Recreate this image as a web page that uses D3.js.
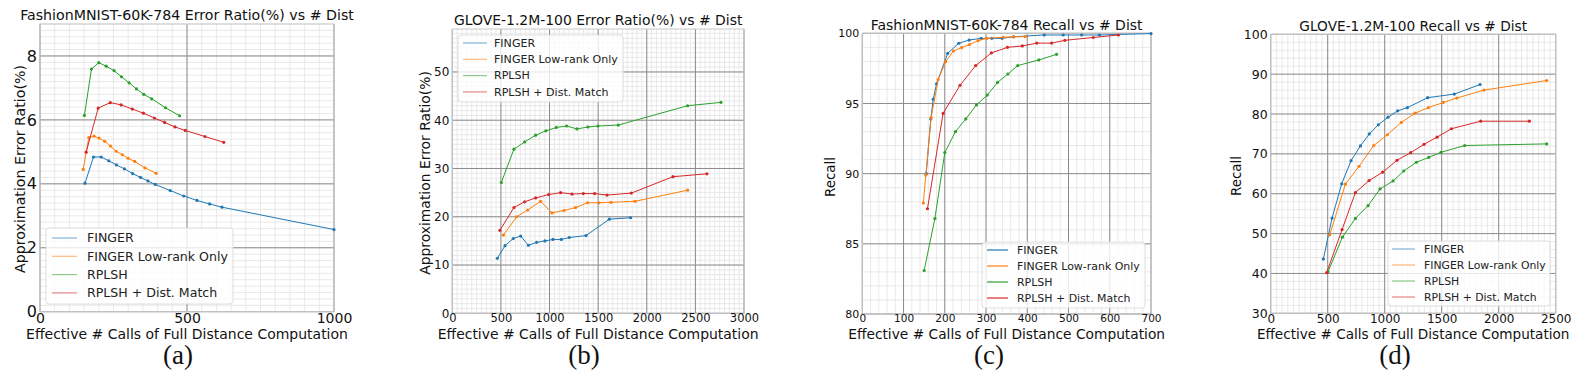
<!DOCTYPE html>
<html><head><meta charset="utf-8">
<script src="https://cdn.jsdelivr.net/npm/d3@7"></script>
<style>body{margin:0;background:#fff}svg{display:block}</style>
</head><body>
<svg id="chart" width="1579" height="374"></svg>
<script>
// ---------- text ----------
const seriesNames = ["FINGER", "FINGER Low-rank Only", "RPLSH", "RPLSH + Dist. Match"];
const seriesColors = ["#1f77b4", "#ff7f0e", "#2ca02c", "#d62728"];
const xLabel = "Effective # Calls of Full Distance Computation";
const titles = ["FashionMNIST-60K-784 Error Ratio(%) vs # Dist", "GLOVE-1.2M-100 Error Ratio(%) vs # Dist",
                "FashionMNIST-60K-784 Recall vs # Dist", "GLOVE-1.2M-100 Recall vs # Dist"];
const yLabels = ["Approximation Error Ratio(%)", "Approximation Error Ratio(%)", "Recall", "Recall"];
const subLabels = ["(a)", "(b)", "(c)", "(d)"];

// ---------- tick labels ----------
const xTicksA = [0, 500, 1000];
const yTicksA = [0, 2, 4, 6, 8];
const xTicksB = [0, 500, 1000, 1500, 2000, 2500, 3000];
const yTicksB = [0, 10, 20, 30, 40, 50];
const xTicksC = [0, 100, 200, 300, 400, 500, 600, 700];
const yTicksC = [80, 85, 90, 95, 100];
const xTicksD = [0, 500, 1000, 1500, 2000, 2500];
const yTicksD = [30, 40, 50, 60, 70, 80, 90, 100];

// ---------- (a) FashionMNIST error ratio ----------
const aFinger = [[153,4.02],[182,4.84],[208,4.84],[234,4.72],[260,4.59],[287,4.47],[315,4.32],[342,4.20],[367,4.09],[392,3.98],[443,3.79],[489,3.62],[534,3.48],[577,3.37],[619,3.27],[1000,2.57]];
const aLowRank = [[147,4.45],[166,5.45],[184,5.49],[201,5.43],[220,5.33],[240,5.18],[259,5.02],[280,4.91],[300,4.80],[322,4.70],[357,4.50],[395,4.33]];
const aRplsh = [[151,6.14],[175,7.59],[200,7.79],[225,7.68],[252,7.54],[277,7.35],[303,7.16],[328,6.97],[353,6.80],[380,6.66],[427,6.38],[475,6.13]];
const aRplshDM = [[157,4.99],[198,6.37],[239,6.54],[276,6.47],[314,6.34],[352,6.21],[389,6.06],[424,5.92],[459,5.78],[494,5.67],[561,5.48],[625,5.30]];

// ---------- (b) GLOVE error ratio ----------
const bFinger = [[463,11.4],[542,14.0],[627,15.5],[703,16.0],[782,14.1],[867,14.7],[953,15.0],[1035,15.3],[1121,15.3],[1203,15.7],[1375,16.1],[1615,19.5],[1834,19.8]];
const bLowRank = [[525,16.2],[662,20.0],[775,21.4],[908,23.2],[1025,20.8],[1149,21.3],[1268,21.9],[1392,22.9],[1508,22.9],[1632,23.0],[1879,23.2],[2420,25.5]];
const bRplsh = [[504,27.1],[634,34.0],[744,35.5],[857,36.9],[963,37.8],[1070,38.5],[1176,38.8],[1282,38.2],[1395,38.6],[1498,38.8],[1707,39.0],[2420,43.0],[2763,43.7]];
const bRplshDM = [[490,17.2],[634,21.9],[744,23.1],[857,23.9],[991,24.6],[1114,25.0],[1231,24.7],[1347,24.8],[1464,24.8],[1591,24.5],[1841,24.9],[2270,28.3],[2619,28.9]];

// ---------- (c) FashionMNIST recall ----------
const cFinger = [[155,90.0],[166,93.9],[172,95.3],[180,96.4],[207,98.57],[234,99.29],[259,99.52],[288,99.64],[314,99.64],[339,99.64],[367,99.75],[441,99.88],[487,99.88],[532,99.88],[575,99.88],[700,99.98]];
const cLowRank = [[148,87.9],[154,89.9],[167,94.0],[184,96.7],[202,97.98],[221,98.74],[241,98.98],[260,99.2],[281,99.48],[302,99.64],[342,99.72],[366,99.75],[395,99.76]];
const cRplsh = [[150,83.1],[176,86.8],[200,91.5],[226,93.0],[251,93.9],[277,94.9],[303,95.6],[328,96.5],[353,97.1],[377,97.7],[428,98.1],[471,98.5]];
const cRplshDM = [[158,87.5],[196,94.3],[237,96.3],[275,97.7],[313,98.6],[352,99.0],[388,99.1],[423,99.3],[459,99.3],[491,99.5],[560,99.7],[621,99.88]];

// ---------- (d) GLOVE recall ----------
const dFinger = [[462,43.6],[538,53.9],[623,62.5],[705,68.3],[787,72.0],[865,75.0],[944,77.3],[1029,79.2],[1114,80.8],[1199,81.6],[1377,84.1],[1611,85.0],[1836,87.4]];
const dLowRank = [[518,49.7],[655,62.4],[775,66.9],[904,72.1],[1023,74.8],[1146,77.9],[1266,80.2],[1383,81.6],[1515,82.9],[1632,84.0],[1871,86.0],[2421,88.4]];
const dRplsh = [[503,40.4],[629,49.1],[743,53.8],[854,57.0],[959,61.2],[1073,63.2],[1167,65.7],[1278,67.9],[1386,69.1],[1494,70.4],[1702,72.1],[2421,72.5]];
const dRplshDM = [[491,40.2],[626,51.0],[743,60.3],[863,63.3],[982,65.4],[1108,68.4],[1228,70.3],[1345,72.4],[1459,74.2],[1585,76.3],[1842,78.2],[2269,78.2]];

// ---------- layout ----------
const panels = [
  {series:[aFinger,aLowRank,aRplsh,aRplshDM], xTicks:xTicksA, yTicks:yTicksA, xDom:[0,1000], yDom:[0,9.0], xMinor:50, yMinor:0.2,
   L:40, R:334, T:24, B:311.7, xTickFs:14, yTickFs:16, titleW:334, titleY:20, xlabW:322, ylabW:208, ylabX:20, ylabY:169,
   leg:{x:46,y:228,w:187,h:76,lx0:52,lx1:77,tx:87,ty0:238,dy:18.3,tw:141,alpha:0.55}, sub:178},
  {series:[bFinger,bLowRank,bRplsh,bRplshDM], xTicks:xTicksB, yTicks:yTicksB, xDom:[0,3000], yDom:[0,58.9], xMinor:50, yMinor:1,
   L:452.3, R:744, T:29, B:313.3, xTickFs:11.5, yTickFs:12, titleW:289, titleY:25, xlabW:321, ylabW:204, ylabX:425, ylabY:173,
   leg:{x:458,y:35,w:165,h:67,lx0:463,lx1:487,tx:494,ty0:43,dy:16.3,tw:124,alpha:0.55}, sub:584},
  {series:[cFinger,cLowRank,cRplsh,cRplshDM], xTicks:xTicksC, yTicks:yTicksC, xDom:[0,700], yDom:[80,100], xMinor:20, yMinor:1,
   L:862.3, R:1151, T:33.3, B:314, xTickFs:10.5, yTickFs:11, titleW:272, titleY:30, xlabW:317, ylabW:40, ylabX:830, ylabY:177,
   leg:{x:982,y:242,w:163,h:66,lx0:987,lx1:1008,tx:1017,ty0:250,dy:16,tw:123,alpha:1}, sub:989},
  {series:[dFinger,dLowRank,dRplsh,dRplshDM], xTicks:xTicksD, yTicks:yTicksD, xDom:[0,2500], yDom:[30,100], xMinor:50, yMinor:2,
   L:1270.7, R:1555.7, T:34.3, B:313.3, xTickFs:12, yTickFs:12.5, titleW:228, titleY:31, xlabW:313, ylabW:40, ylabX:1236, ylabY:176,
   leg:{x:1388,y:241,w:162,h:65,lx0:1392,lx1:1415,tx:1424,ty0:249,dy:16,tw:122,alpha:0.55}, sub:1395}
];

const svg = d3.select("#chart");
const FONT = "DejaVu Sans, sans-serif";

function fitText(sel, target) {
  const fs = parseFloat(sel.attr("font-size"));
  const w = sel.node().getComputedTextLength();
  if (w > 0) sel.attr("font-size", fs * target / w);
}

panels.forEach((p, i) => {
  const g = svg.append("g");
  const x = d3.scaleLinear().domain(p.xDom).range([p.L, p.R]);
  const y = d3.scaleLinear().domain(p.yDom).range([p.B, p.T]);

  // minor grid
  const xMinors = d3.range(p.xDom[0], p.xDom[1] + 1e-9, p.xMinor);
  const yMinors = d3.range(p.yDom[0], p.yDom[1] + 1e-9, p.yMinor);
  g.append("g").selectAll("line").data(xMinors).join("line")
    .attr("x1", d => x(d)).attr("x2", d => x(d)).attr("y1", p.T).attr("y2", p.B)
    .attr("stroke", "#e3e3e3").attr("stroke-width", 0.8);
  g.append("g").selectAll("line").data(yMinors).join("line")
    .attr("y1", d => y(d)).attr("y2", d => y(d)).attr("x1", p.L).attr("x2", p.R)
    .attr("stroke", "#e3e3e3").attr("stroke-width", 0.8);
  // major grid
  g.append("g").selectAll("line").data(p.xTicks).join("line")
    .attr("x1", d => x(d)).attr("x2", d => x(d)).attr("y1", p.T).attr("y2", p.B)
    .attr("stroke", "#8c8c8c").attr("stroke-width", 1);
  g.append("g").selectAll("line").data(p.yTicks).join("line")
    .attr("y1", d => y(d)).attr("y2", d => y(d)).attr("x1", p.L).attr("x2", p.R)
    .attr("stroke", "#8c8c8c").attr("stroke-width", 1);
  // frame
  g.append("rect").attr("x", p.L).attr("y", p.T).attr("width", p.R - p.L).attr("height", p.B - p.T)
    .attr("fill", "none").attr("stroke", "#c8c8c8").attr("stroke-width", 1);

  // series
  const line = d3.line().x(d => x(d[0])).y(d => y(d[1]));
  const clipId = "clip" + i;
  svg.append("clipPath").attr("id", clipId).append("rect")
    .attr("x", p.L - 3).attr("y", p.T - 3).attr("width", p.R - p.L + 6).attr("height", p.B - p.T + 6);
  const sg = g.append("g").attr("clip-path", `url(#${clipId})`);
  p.series.forEach((s, k) => {
    sg.append("path").datum(s).attr("d", line).attr("fill", "none")
      .attr("stroke", seriesColors[k]).attr("stroke-width", 1);
    sg.append("g").selectAll("circle").data(s).join("circle")
      .attr("cx", d => x(d[0])).attr("cy", d => y(d[1])).attr("r", 1.6).attr("fill", seriesColors[k]);
  });

  // tick labels
  const xAxis = d3.axisBottom(x).tickValues(p.xTicks).tickSize(0).tickPadding(1).tickFormat(d3.format("d"));
  const xg = g.append("g").attr("transform", `translate(0,${p.B})`).call(xAxis);
  xg.select(".domain").remove();
  xg.selectAll("text").attr("font-family", FONT).attr("font-size", p.xTickFs).attr("fill", "#111");
  const yAxis = d3.axisLeft(y).tickValues(p.yTicks).tickSize(0).tickPadding(3).tickFormat(d3.format("d"));
  const yg = g.append("g").attr("transform", `translate(${p.L},0)`).call(yAxis);
  yg.select(".domain").remove();
  yg.selectAll("text").attr("font-family", FONT).attr("font-size", p.yTickFs).attr("fill", "#111");

  // legend
  const L = p.leg;
  g.append("rect").attr("x", L.x).attr("y", L.y).attr("width", L.w).attr("height", L.h).attr("rx", 3)
    .attr("fill", "#fff").attr("fill-opacity", 0.8).attr("stroke", "#d6d6d6").attr("stroke-width", 0.8);
  const legTexts = [];
  seriesNames.forEach((nm, k) => {
    const yy = L.ty0 + k * L.dy;
    g.append("line").attr("x1", L.lx0).attr("x2", L.lx1).attr("y1", yy).attr("y2", yy)
      .attr("stroke", seriesColors[k]).attr("stroke-width", 1.2).attr("stroke-opacity", L.alpha);
    legTexts.push(g.append("text").attr("x", L.tx).attr("y", yy).attr("dy", "0.35em")
      .attr("font-family", FONT).attr("font-size", 12).attr("fill", "#222").text(nm));
  });
  const refW = legTexts[1].node().getComputedTextLength();
  legTexts.forEach(t => t.attr("font-size", 12 * L.tw / refW));

  // title
  const tt = g.append("text").attr("x", (p.L + p.R) / 2).attr("y", p.titleY).attr("text-anchor", "middle")
    .attr("font-family", FONT).attr("font-size", 14).attr("fill", "#111").text(titles[i]);
  fitText(tt, p.titleW);
  // x label
  const xl = g.append("text").attr("x", (p.L + p.R) / 2).attr("y", 339).attr("text-anchor", "middle")
    .attr("font-family", FONT).attr("font-size", 14).attr("fill", "#111").text(xLabel);
  fitText(xl, p.xlabW);
  // y label
  const yl = g.append("text").attr("transform", `translate(${p.ylabX},${p.ylabY}) rotate(-90)`)
    .attr("text-anchor", "middle").attr("dy", "0.35em")
    .attr("font-family", FONT).attr("font-size", 14).attr("fill", "#111").text(yLabels[i]);
  fitText(yl, p.ylabW);
  // sub label
  g.append("text").attr("x", p.sub).attr("y", 364).attr("text-anchor", "middle")
    .attr("font-family", "Liberation Serif, Times New Roman, serif").attr("font-size", 27).attr("fill", "#111").text(subLabels[i]);
});
</script>
</body></html>
